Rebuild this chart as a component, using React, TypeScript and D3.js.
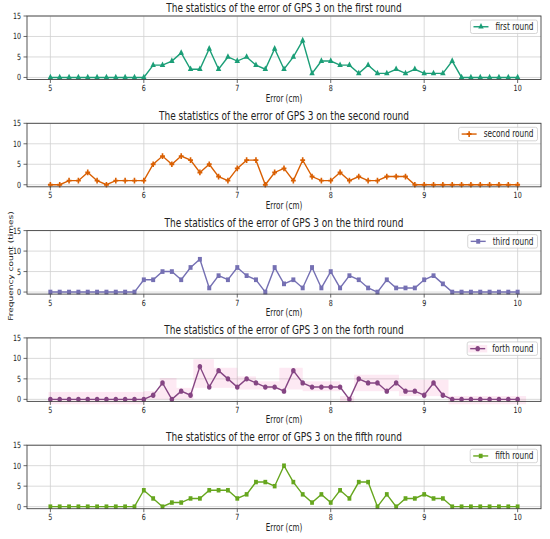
import React, { useEffect, useRef } from "react";
import * as d3 from "d3";

// error bins (cm)
const errorBins = [
  5.0, 5.1, 5.2, 5.3, 5.4, 5.5, 5.6, 5.7, 5.8, 5.9,
  6.0, 6.1, 6.2, 6.3, 6.4, 6.5, 6.6, 6.7, 6.8, 6.9,
  7.0, 7.1, 7.2, 7.3, 7.4, 7.5, 7.6, 7.7, 7.8, 7.9,
  8.0, 8.1, 8.2, 8.3, 8.4, 8.5, 8.6, 8.7, 8.8, 8.9,
  9.0, 9.1, 9.2, 9.3, 9.4, 9.5, 9.6, 9.7, 9.8, 9.9,
  10.0,
];

const firstRound = [
  0, 0, 0, 0, 0, 0, 0, 0, 0, 0,
  0, 3, 3, 4, 6, 2, 2, 7, 2, 5,
  4, 5, 3, 2, 7, 2, 5, 9, 1, 4,
  4, 3, 3, 1, 3, 1, 1, 2, 1, 2,
  1, 1, 1, 4, 0, 0, 0, 0, 0, 0,
  0,
];
const secondRound = [
  0, 0, 1, 1, 3, 1, 0, 1, 1, 1,
  1, 5, 7, 5, 7, 6, 3, 5, 2, 1,
  4, 6, 6, 0, 3, 4, 1, 6, 2, 1,
  1, 3, 1, 2, 1, 1, 2, 2, 2, 0,
  0, 0, 0, 0, 0, 0, 0, 0, 0, 0,
  0,
];
const thirdRound = [
  0, 0, 0, 0, 0, 0, 0, 0, 0, 0,
  3, 3, 5, 5, 3, 6, 8, 1, 4, 3,
  6, 4, 3, 0, 6, 2, 3, 1, 6, 1,
  5, 1, 4, 3, 1, 0, 3, 1, 1, 1,
  3, 4, 2, 0, 0, 0, 0, 0, 0, 0,
  0,
];
const forthRound = [
  0, 0, 0, 0, 0, 0, 0, 0, 0, 0,
  0, 1, 4, 0, 2, 1, 8, 3, 7, 5,
  3, 5, 4, 3, 3, 2, 7, 4, 3, 3,
  3, 3, 0, 5, 4, 4, 2, 4, 2, 2,
  1, 4, 1, 0, 0, 0, 0, 0, 0, 0,
  0,
];
const fifthRound = [
  0, 0, 0, 0, 0, 0, 0, 0, 0, 0,
  4, 2, 0, 1, 1, 2, 2, 4, 4, 4,
  2, 3, 6, 6, 5, 10, 6, 3, 1, 3,
  1, 4, 2, 6, 6, 0, 3, 0, 2, 2,
  3, 2, 2, 0, 0, 0, 0, 0, 0, 0,
  0,
];

// shaded band behind the forth round: [x0, x1, low, high]
const forthBand: [number, number, number, number][] = [
  [4.98, 6.0, -1.2, 1.8],
  [6.0, 6.17, 0, 2],
  [6.17, 6.35, 0, 5.2],
  [6.35, 6.53, 0, 2.8],
  [6.53, 6.75, 2.8, 9.8],
  [6.75, 7.0, 2.8, 7.7],
  [7.0, 7.2, 2.4, 5.6],
  [7.2, 7.45, 2.4, 4.4],
  [7.45, 7.7, 2.4, 7.7],
  [7.7, 8.1, 2.0, 4.4],
  [8.1, 8.25, -0.8, 0.8],
  [8.25, 8.73, 2.0, 6.0],
  [8.73, 9.26, 0.8, 4.8],
  [9.26, 10.09, -1.2, 0.8],
];

const roundNames = ["first", "second", "third", "forth", "fifth"];
const xTicks = [5, 6, 7, 8, 9, 10];
const yTicks = [0, 5, 10, 15];

interface Panel {
  name: string;
  values: number[];
  color: string;
  symbol: d3.SymbolType;
  size: number;
}

const panels: Panel[] = [
  { name: roundNames[0], values: firstRound, color: "#1b9e77", symbol: d3.symbolTriangle, size: 18 },
  { name: roundNames[1], values: secondRound, color: "#d95f02", symbol: d3.symbolCross, size: 18 },
  { name: roundNames[2], values: thirdRound, color: "#7570b3", symbol: d3.symbolSquare, size: 22 },
  { name: roundNames[3], values: forthRound, color: "#854583", symbol: d3.symbolCircle, size: 22 },
  { name: roundNames[4], values: fifthRound, color: "#66a61e", symbol: d3.symbolSquare, size: 20 },
];

const W = 550;
const H = 539;
const SX = 0.75; // the source picture is squeezed horizontally

const App: React.FC = () => {
  const svgRef = useRef<SVGSVGElement | null>(null);

  useEffect(() => {
    if (!svgRef.current) return;
    const svg = d3.select(svgRef.current);
    svg.selectAll("*").remove();

    const left = 27;
    const right = 541;
    const h = 63.5;
    const font = "'DejaVu Sans', sans-serif";

    const x = d3.scaleLinear().domain([4.75, 10.25]).range([left, right]);

    const addText = (
      g: d3.Selection<any, unknown, null, undefined>,
      tx: number,
      ty: number,
      str: string,
      size: number,
      anchor: string,
      rotate = 0
    ) =>
      g
        .append("text")
        .attr(
          "transform",
          `translate(${tx},${ty}) scale(${SX},1)${rotate ? ` rotate(${rotate})` : ""}`
        )
        .attr("text-anchor", anchor)
        .attr("font-size", size)
        .attr("font-family", font)
        .attr("fill", "#222")
        .text(str);

    panels.forEach((p, i) => {
      const top = 16 + i * 107.3;
      const bottom = top + h;
      const y = d3.scaleLinear().domain([-0.5, 15]).range([bottom, top]);
      const g = svg.append("g");

      // grid
      xTicks.forEach((t) =>
        g
          .append("line")
          .attr("x1", x(t))
          .attr("x2", x(t))
          .attr("y1", top)
          .attr("y2", bottom)
          .attr("stroke", "#d0d0d0")
          .attr("stroke-width", 0.8)
      );
      yTicks.forEach((t) =>
        g
          .append("line")
          .attr("x1", left)
          .attr("x2", right)
          .attr("y1", y(t))
          .attr("y2", y(t))
          .attr("stroke", "#d0d0d0")
          .attr("stroke-width", 0.8)
      );

      // band (forth round only)
      if (p.name === "forth") {
        g.selectAll("rect.band")
          .data(forthBand)
          .join("rect")
          .attr("class", "band")
          .attr("x", (d) => x(d[0]))
          .attr("width", (d) => x(d[1]) - x(d[0]))
          .attr("y", (d) => y(d[3]))
          .attr("height", (d) => y(d[2]) - y(d[3]))
          .attr("fill", "#e7298a")
          .attr("opacity", 0.1);
      }

      const line = d3
        .line<number>()
        .x((_, j) => x(errorBins[j]))
        .y((d) => y(d));

      g.append("path")
        .datum(p.values)
        .attr("fill", "none")
        .attr("stroke", p.color)
        .attr("stroke-width", 1.4)
        .attr("d", line);

      const sym = d3.symbol().type(p.symbol).size(p.size);
      g.selectAll("path.m")
        .data(p.values)
        .join("path")
        .attr("class", "m")
        .attr("transform", (d, j) => `translate(${x(errorBins[j])},${y(d)}) scale(0.85,1)`)
        .attr("d", sym)
        .attr("fill", p.color);

      // frame
      g.append("rect")
        .attr("x", left)
        .attr("y", top)
        .attr("width", right - left)
        .attr("height", h)
        .attr("fill", "none")
        .attr("stroke", "#444")
        .attr("stroke-width", 0.9);

      // ticks
      xTicks.forEach((t) => {
        g.append("line")
          .attr("x1", x(t))
          .attr("x2", x(t))
          .attr("y1", bottom)
          .attr("y2", bottom + 3.5)
          .attr("stroke", "#444")
          .attr("stroke-width", 0.8);
        addText(g, x(t), bottom + 11.5, String(t), 8.5, "middle");
      });
      yTicks.forEach((t) => {
        g.append("line")
          .attr("x1", left - 3.5)
          .attr("x2", left)
          .attr("y1", y(t))
          .attr("y2", y(t))
          .attr("stroke", "#444")
          .attr("stroke-width", 0.8);
        addText(g, left - 6, y(t) + 3, String(t), 8.5, "end");
      });

      addText(
        g,
        (left + right) / 2,
        top - 3.8,
        `The statistics of the error of GPS 3 on the ${p.name} round`,
        12,
        "middle"
      );
      addText(g, (left + right) / 2, bottom + 22, "Error (cm)", 9.6, "middle");

      // legend
      const lg = g.append("g");
      const boxTop = top + 4;
      const boxH = 13.5;
      const boxRight = right - 3.5;
      const txt = addText(lg, 0, 0, `${p.name} round`, 9.8, "start");
      const tw = (txt.node() as SVGTextElement).getComputedTextLength() * SX;
      const textX = boxRight - 4 - tw;
      txt.attr("transform", `translate(${textX},${boxTop + 10}) scale(${SX},1)`);
      lg.insert("rect", ":first-child")
        .attr("x", textX - 25)
        .attr("y", boxTop)
        .attr("width", boxRight - (textX - 25))
        .attr("height", boxH)
        .attr("rx", 2)
        .attr("fill", "white")
        .attr("fill-opacity", 0.85)
        .attr("stroke", "#cccccc")
        .attr("stroke-width", 0.8);
      if (p.name === "forth") {
        lg.append("rect")
          .attr("x", textX - 24)
          .attr("y", boxTop + 3)
          .attr("width", 19)
          .attr("height", boxH - 6)
          .attr("fill", "#e7298a")
          .attr("opacity", 0.1);
      }
      lg.append("line")
        .attr("x1", textX - 22)
        .attr("x2", textX - 7)
        .attr("y1", boxTop + boxH / 2)
        .attr("y2", boxTop + boxH / 2)
        .attr("stroke", p.color)
        .attr("stroke-width", 1.4);
      lg.append("path")
        .attr("transform", `translate(${textX - 14.5},${boxTop + boxH / 2}) scale(0.85,1)`)
        .attr("d", sym)
        .attr("fill", p.color);
    });

    addText(svg as any, 12.5, 266, "Frequency count (times)", 9, "middle", -90);
  }, []);

  return (
    <div style={{ position: "absolute", left: 0, top: 0 }}>
      <svg
        ref={svgRef}
        width={W}
        height={H}
        style={{ display: "block", background: "#fff" }}
      ></svg>
    </div>
  );
};

export default App;
